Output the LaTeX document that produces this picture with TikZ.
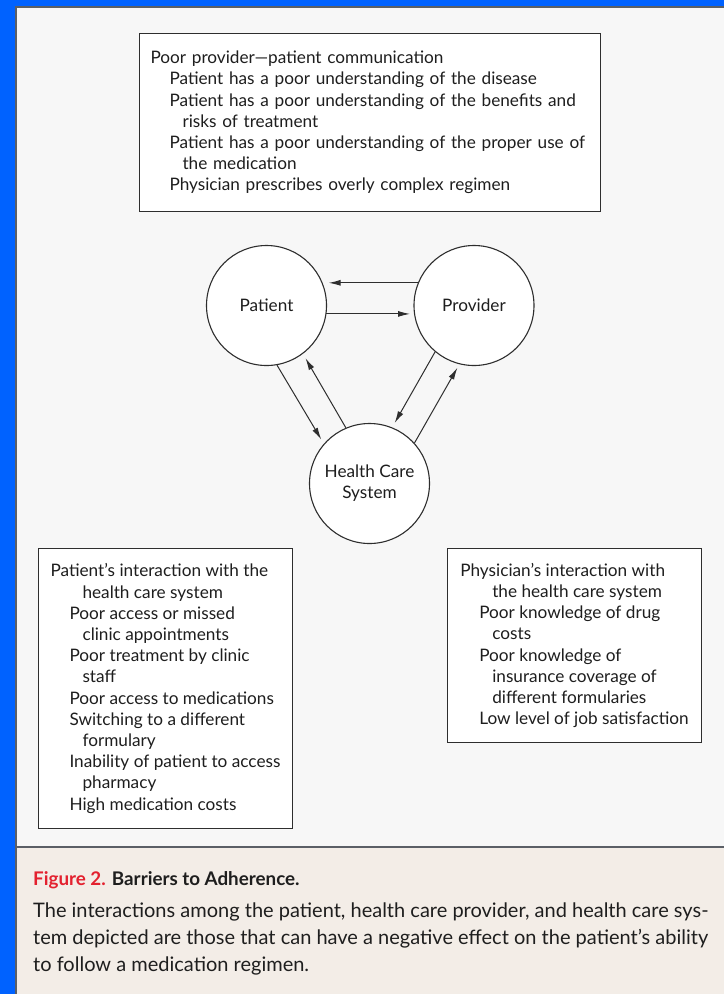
\documentclass[tikz,border=0pt]{standalone}
\usepackage{fontspec}
\setmainfont{Lato}
\usetikzlibrary{arrows.meta}

\definecolor{nejmblue}{HTML}{0062FF}
\definecolor{framegray}{HTML}{5B5F66}
\definecolor{panelgray}{HTML}{F7F7F7}
\definecolor{capbeige}{HTML}{F3EDE7}
\definecolor{linegray}{HTML}{2E2E2E}
\definecolor{inkgray}{HTML}{1E1E1E}
\definecolor{figred}{HTML}{E3212F}

\newcommand{\boxfont}{\fontsize{17.2}{21.2}\selectfont}
\newcommand{\capfont}{\fontsize{20}{27}\selectfont}
\newcommand{\titlefont}{\fontsize{18.8}{27}\selectfont}
\newcommand{\lvA}{\hspace*{19pt}}
\newcommand{\lvB}{\hspace*{32pt}}

\tikzset{
  actor/.style={circle, draw=linegray, line width=1.1pt, fill=white,
    minimum size=120pt, inner sep=0pt, align=center, font=\boxfont, text=inkgray},
  barrier/.style={draw=linegray, line width=1pt, fill=white, anchor=north west,
    align=left, inner sep=0pt, font=\boxfont, text=inkgray},
  flow/.style={draw=linegray, line width=1pt, -{Latex[length=12pt,width=6pt]}},
}

\begin{document}
\begin{tikzpicture}[x=1pt,y=-1pt]
  \useasboundingbox (0,0) rectangle (724,994);
  % frame, panel and caption area
  \fill[nejmblue] (0,0) rectangle (724,994);
  \fill[framegray] (15,6) rectangle (724,994);
  \fill[panelgray] (17,8) rectangle (724,846);
  \fill[capbeige] (17,848) rectangle (724,994);

  \node[barrier, inner xsep=11pt, text width=439pt, minimum height=178pt] (comm) at (139,33)
  {Poor provider---patient communication\\
   \lvA Patient has a poor understanding of the disease\\
   \lvA Patient has a poor understanding of the benefits and\\
   \lvB risks of treatment\\
   \lvA Patient has a poor understanding of the proper use of\\
   \lvB the medication\\
   \lvA Physician prescribes overly complex regimen};

  \node[actor] (pat) at (266.5,305.5) {Patient};
  \node[actor] (prov) at (474,305.5) {Provider};
  \node[actor] (hcs) at (369.5,483.5) {Health Care\\System};

  \draw[flow, shorten >=6pt] (prov.158) -- (pat.22);
  \draw[flow, shorten >=4pt] (pat.-8) -- (prov.188);
  \draw[flow, shorten >=5pt] (pat.-80) -- (hcs.139);
  \draw[flow, shorten >=5pt] (hcs.113) -- (pat.-53);
  \draw[flow, shorten >=5pt] (prov.-130) -- (hcs.68);
  \draw[flow, shorten >=4pt] (hcs.42) -- (prov.-104);

  \node[barrier, minimum width=254pt, minimum height=280pt] (patsys) at (38,548)
  {Patient's interaction with the\\
   \lvB health care system\\
   \lvA Poor access or missed\\
   \lvB clinic appointments\\
   \lvA Poor treatment by clinic\\
   \lvB staff\\
   \lvA Poor access to medications\\
   \lvA Switching to a different\\
   \lvB formulary\\
   \lvA Inability of patient to access\\
   \lvB pharmacy\\
   \lvA High medication costs};

  \node[barrier, minimum width=254pt, minimum height=194pt] (docsys) at (447,548)
  {Physician's interaction with\\
   \lvB the health care system\\
   \lvA Poor knowledge of drug\\
   \lvB costs\\
   \lvA Poor knowledge of\\
   \lvB insurance coverage of\\
   \lvB different formularies\\
   \lvA Low level of job satisfaction};

  % caption
  \node[anchor=base west, inner sep=0pt, font=\titlefont\bfseries, text=inkgray] (title) at (33,885)
  {\textcolor{figred}{Figure 2.} Barriers to Adherence.};
  \node[anchor=north west, inner sep=0pt, align=left, font=\capfont, text=inkgray] (legend) at (33,903)
  {The interactions among the patient, health care provider, and health care sys-\\
   tem depicted are those that can have a negative effect on the patient's ability\\
   to follow a medication regimen.};
\end{tikzpicture}
\end{document}
